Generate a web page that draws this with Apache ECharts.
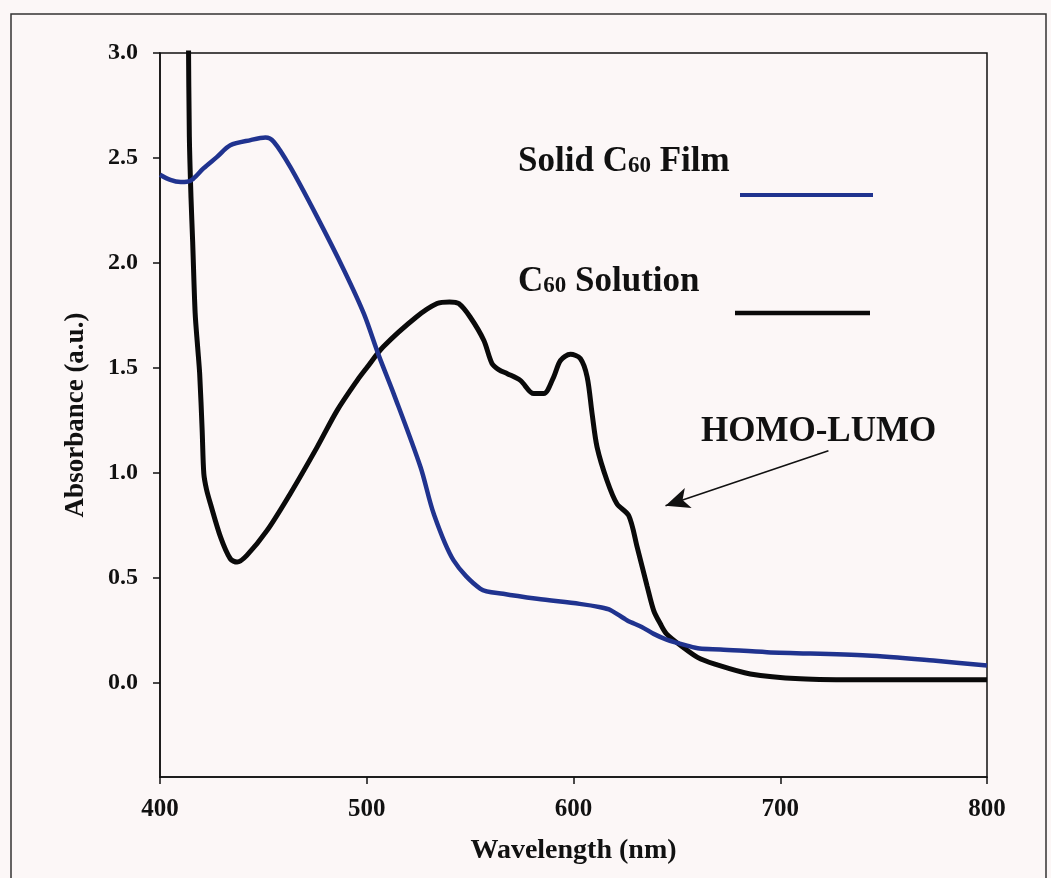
<!DOCTYPE html>
<html>
<head>
<meta charset="utf-8">
<script src="https://cdn.jsdelivr.net/npm/echarts@6/dist/echarts.min.js"></script>
<style>
html,body{margin:0;padding:0;background:#fcf7f7;}
#chart{width:1051px;height:878px;}
</style>
</head>
<body>
<div id="chart"></div>
<script>
// Solid C60 film (blue)
const filmWavelength = [400,405,410,413,416,421,427.6,434,443.8,451,455,463,476,489,498.6,505.8,513,526,532.4,542,555,566,582.4,603,613,618,626,633,638.8,645,655,661,671,693.6,742,774,800];
const filmAbsorbance = [2.42,2.395,2.385,2.386,2.40,2.45,2.505,2.56,2.585,2.597,2.577,2.457,2.219,1.965,1.758,1.559,1.377,1.027,0.804,0.582,0.447,0.423,0.399,0.375,0.359,0.345,0.296,0.265,0.232,0.205,0.176,0.162,0.158,0.145,0.129,0.105,0.081];
// C60 solution (black)
const solWavelength = [413.7,414.2,415.0,415.8,417,418.2,419.2,420.4,421.2,422.5,424.4,429.3,434,437.3,442,451.8,463,476,485.7,495.4,500,508,524,534,540,544.5,550,556.6,560.6,564,568,574.3,580.8,585.6,590.4,593.7,598.5,603.3,606.6,609,611.4,616.2,621,626.7,630.8,635.6,638.8,642,645,653,660,668,685.5,709.7,742,800];
const solAbsorbance = [3.15,2.6,2.31,2.1,1.76,1.6,1.47,1.20,0.995,0.92,0.852,0.693,0.59,0.574,0.606,0.725,0.90,1.122,1.297,1.44,1.50,1.6,1.742,1.806,1.814,1.806,1.742,1.631,1.52,1.49,1.472,1.44,1.377,1.377,1.456,1.535,1.564,1.544,1.456,1.281,1.122,0.963,0.852,0.796,0.645,0.46,0.343,0.28,0.232,0.168,0.12,0.089,0.041,0.018,0.013,0.013];
const yTickValues = [0,0.5,1.0,1.5,2.0,2.5,3.0];
const xTickLabels = [400,500,600,700,800];

const FONT = '"Liberation Serif","Times New Roman",serif';
const BLUE = '#20338f';
const filmData = filmWavelength.map((x,i)=>[x,filmAbsorbance[i]]);
const solData = solWavelength.map((x,i)=>[x,solAbsorbance[i]]);

const chart = echarts.init(document.getElementById('chart'));
chart.setOption({
  backgroundColor:'#fcf7f7',
  animation:false,
  grid:{left:160,right:64,top:53,bottom:101,show:true,borderColor:'#111',borderWidth:1.5,backgroundColor:'transparent'},
  xAxis:{
    type:'value',min:400,max:800,interval:100,
    name:'Wavelength (nm)',nameLocation:'middle',nameGap:60,
    nameTextStyle:{fontFamily:FONT,fontWeight:'bold',fontSize:28,color:'#111'},
    axisLine:{show:true,onZero:false,lineStyle:{color:'#111',width:1.5}},
    axisTick:{show:true,inside:false,length:7,lineStyle:{color:'#111',width:1.5}},
    axisLabel:{fontFamily:FONT,fontWeight:'bold',fontSize:25,color:'#111',margin:20,
      formatter:v=>xTickLabels.includes(v)?String(v):''},
    splitLine:{show:false}
  },
  yAxis:{
    type:'value',min:-0.45,max:3.0,
    name:'Absorbance (a.u.)',nameLocation:'middle',nameGap:70,
    nameTextStyle:{fontFamily:FONT,fontWeight:'bold',fontSize:27,color:'#111'},
    axisLine:{show:true,onZero:false,lineStyle:{color:'#111',width:1.5}},
    axisTick:{show:true,inside:false,length:7,customValues:yTickValues,lineStyle:{color:'#111',width:1.5}},
    axisLabel:{fontFamily:FONT,fontWeight:'bold',fontSize:24,color:'#111',margin:22,
      customValues:yTickValues,formatter:v=>v.toFixed(1)},
    splitLine:{show:false}
  },
  series:[
    {name:'Solid C60 Film',type:'line',data:filmData,showSymbol:false,smooth:0.3,clip:true,
     lineStyle:{color:BLUE,width:4.5},z:3},
    {name:'C60 Solution',type:'line',data:solData,showSymbol:false,smooth:0.3,clip:true,
     lineStyle:{color:'#0a0a0a',width:5},z:2,
     markLine:{silent:true,symbol:['none','arrow'],symbolSize:[16,24],
       label:{show:false},
       lineStyle:{color:'#111',width:1.6,type:'solid'},
       data:[[{coord:[723.3,1.105]},{coord:[644.5,0.843]}]]}}
  ],
  graphic:[
    {type:'rect',shape:{x:11,y:14,width:1035,height:900},style:{fill:'none',stroke:'#333',lineWidth:1.5},silent:true,z:-1},
    {type:'text',left:518,top:144,style:{
      text:'{a|Solid C}{b|60}{a| Film}',
      rich:{a:{fontFamily:FONT,fontWeight:'bold',fontSize:35,fill:'#111'},
            b:{fontFamily:FONT,fontWeight:'bold',fontSize:23,fill:'#111',padding:[9,0,0,0]}}}},
    {type:'line',shape:{x1:740,y1:195,x2:873,y2:195},style:{stroke:BLUE,lineWidth:4}},
    {type:'text',left:518,top:264,style:{
      text:'{a|C}{b|60}{a| Solution}',
      rich:{a:{fontFamily:FONT,fontWeight:'bold',fontSize:35,fill:'#111'},
            b:{fontFamily:FONT,fontWeight:'bold',fontSize:23,fill:'#111',padding:[9,0,0,0]}}}},
    {type:'line',shape:{x1:735,y1:313,x2:870,y2:313},style:{stroke:'#0a0a0a',lineWidth:4.5}},
    {type:'text',left:701,top:414,style:{text:'HOMO-LUMO',fontFamily:FONT,fontWeight:'bold',fontSize:35,fill:'#111'}}
  ]
});
</script>
</body>
</html>
